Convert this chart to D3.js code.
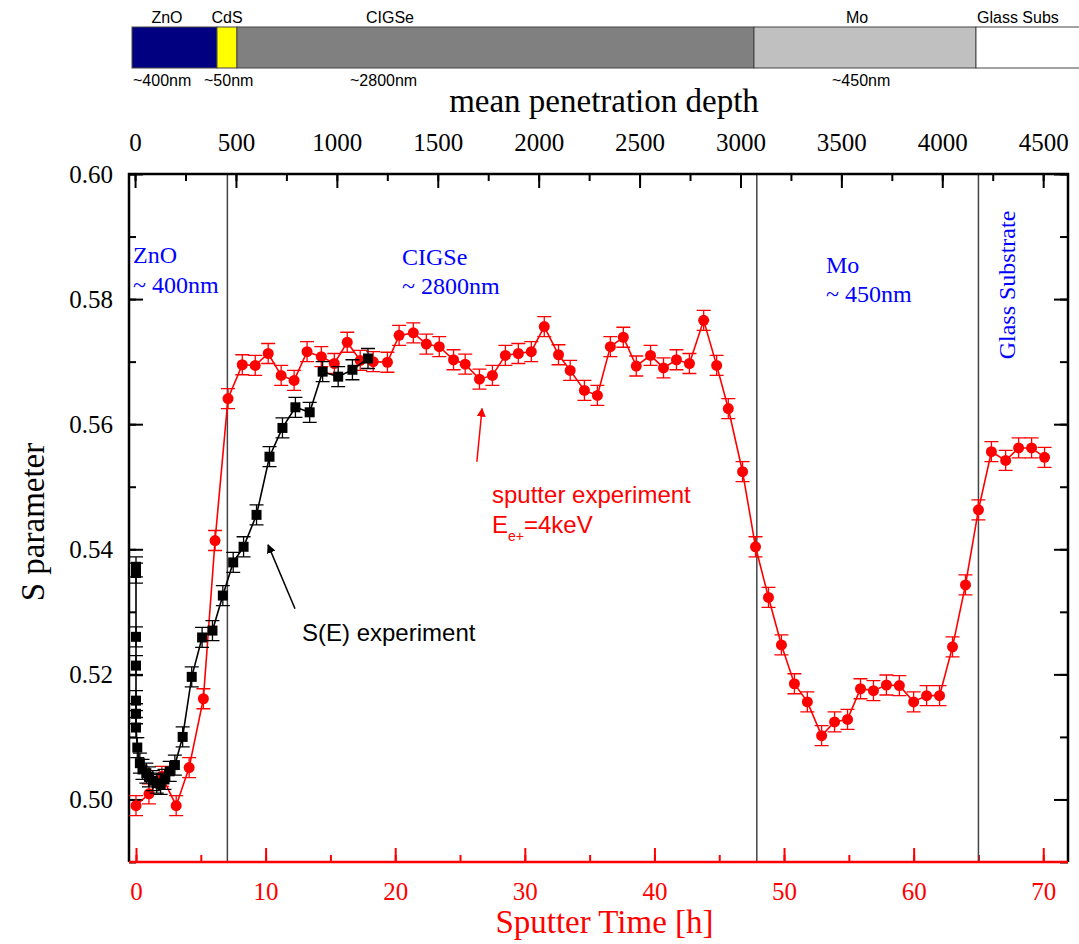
<!DOCTYPE html>
<html>
<head>
<meta charset="utf-8">
<script src="https://cdn.jsdelivr.net/npm/d3@7"></script>
<style>
  body { margin: 0; background: #fff; }
  svg { display: block; }
</style>
</head>
<body>
<svg id="chart"></svg>
<script>
const width = 1079;
const height = 944;

// sputter experiment, E = 4 keV (red)
const sputterTime = [0, 1.0, 2.0, 3.1, 4.1, 5.2, 6.1,
  7.1, 8.2, 9.2, 10.2, 11.2, 12.2, 13.2, 14.3, 15.3, 16.3, 17.3, 18.3, 19.4,
  20.3, 21.4, 22.4, 23.4, 24.5, 25.4, 26.5, 27.5,
  28.5, 29.5, 30.5, 31.5, 32.6, 33.5, 34.6, 35.6, 36.6, 37.6, 38.6, 39.7, 40.7, 41.7, 42.7, 43.8, 44.8, 45.7, 46.8, 47.8,
  48.8, 49.8, 50.8, 51.8, 52.9, 53.9, 54.9, 55.9, 56.9, 57.9, 58.9, 60.0, 61.0, 62.0, 63.0, 64.0, 65.0, 66.0, 67.1, 68.1, 69.1, 70.1];
const sputterS = [0.4990, 0.5009, 0.5037, 0.4990, 0.5051, 0.5161, 0.5414,
  0.5641, 0.5695, 0.5694, 0.5713, 0.5678, 0.5670, 0.5716, 0.5708, 0.5697, 0.5731, 0.5702, 0.5700, 0.5699,
  0.5742, 0.5746, 0.5728, 0.5724, 0.5703, 0.5696, 0.5672, 0.5678,
  0.5710, 0.5713, 0.5716, 0.5756, 0.5711, 0.5686, 0.5654, 0.5646, 0.5724, 0.5739, 0.5693, 0.5710, 0.5690, 0.5703, 0.5697, 0.5766, 0.5694, 0.5625, 0.5524, 0.5404,
  0.5323, 0.5247, 0.5185, 0.5156, 0.5102, 0.5124, 0.5128, 0.5177, 0.5174, 0.5183, 0.5182, 0.5156, 0.5166, 0.5166, 0.5244, 0.5343, 0.5463, 0.5556, 0.5542, 0.5562, 0.5562, 0.5547];
const sputterErr = 0.0016;

// S(E) experiment (black)
const seTime = [0, 0, 0, 0, 0, 0, 0, 0.1, 0.3, 0.5, 0.8, 1.0, 1.3, 1.6, 1.9, 2.2, 2.6, 3.0,
  3.6, 4.3, 5.1, 5.9, 6.7, 7.5, 8.3, 9.3, 10.3, 11.3, 12.3, 13.4, 14.4, 15.6, 16.7, 17.9];
const seS = [0.5372, 0.5362, 0.5260, 0.5214, 0.5158, 0.5137, 0.5115, 0.5083, 0.5058, 0.5048, 0.5042, 0.5036, 0.5030, 0.5026, 0.5024, 0.5032, 0.5045, 0.5055,
  0.5100, 0.5196, 0.5259, 0.5270, 0.5326, 0.5379, 0.5404, 0.5455, 0.5548, 0.5594, 0.5627, 0.5619, 0.5684, 0.5676, 0.5687, 0.5705];
const seErr = 0.0016;

// layer stack bar (depth in nm along the top axis)
const layerNames = ["ZnO", "CdS", "CIGSe", "Mo", "Glass Subs"];
const layerEdges = [-15, 406, 505, 3067, 4167, 4800];
const layerColors = ["#000080", "#ffff00", "#808080", "#c0c0c0", "#ffffff"];
const layerThick = ["~400nm", "~50nm", "~2800nm", "~450nm"];

const depthTicks = d3.range(0, 4501, 500);
const depthMinor = d3.range(0, 4501, 250);
const timeTicks = d3.range(0, 71, 10);
const timeMinor = d3.range(0, 71, 5);
const sTicks = [0.50, 0.52, 0.54, 0.56, 0.58, 0.60];
const sMinor = d3.range(0.49, 0.6001, 0.01);
const boundaryTimes = [7.05, 47.9, 65.0];

const mLeft = 129, mRight = 1068, mTop = 174, mBottom = 862;
const serif = "'Liberation Serif', 'Times New Roman', serif";
const sans = "'Liberation Sans', Arial, sans-serif";
const red = "#ff0000";

const x = d3.scaleLinear([-0.54, 71.91], [mLeft, mRight]);
const xTop = d3.scaleLinear([-30, 4623], [mLeft, mRight]);
const y = d3.scaleLinear([0.49, 0.60], [mBottom, mTop]);

const svg = d3.select("#chart")
  .attr("width", width)
  .attr("height", height)
  .attr("viewBox", [0, 0, width, height]);

// ---------- layer bar ----------
const bar = svg.append("g");
bar.selectAll("rect")
  .data(layerNames)
  .join("rect")
  .attr("x", (d, i) => xTop(layerEdges[i]))
  .attr("y", 27)
  .attr("width", (d, i) => xTop(layerEdges[i + 1]) - xTop(layerEdges[i]))
  .attr("height", 41)
  .attr("fill", (d, i) => layerColors[i])
  .attr("stroke", "#444")
  .attr("stroke-width", 1);

const barText = svg.append("g")
  .attr("font-family", sans)
  .attr("font-size", 16)
  .attr("fill", "#000");
const nameX = [167, 227, 390, 857, 977];
barText.selectAll("text.name")
  .data(layerNames)
  .join("text")
  .attr("class", "name")
  .attr("x", (d, i) => nameX[i])
  .attr("y", 23)
  .attr("text-anchor", (d, i) => i === 4 ? "start" : "middle")
  .text(d => d);
const thickX = [133, 204, 350, 832];
barText.selectAll("text.thick")
  .data(layerThick)
  .join("text")
  .attr("class", "thick")
  .attr("x", (d, i) => thickX[i])
  .attr("y", 86)
  .text(d => d);

// ---------- axes ----------
function styleAxis(g, color) {
  g.attr("font-family", serif).attr("font-size", 25);
  g.select(".domain").remove();
  g.selectAll(".tick line").attr("stroke", color).attr("stroke-width", 2);
  g.selectAll(".tick text")
    .attr("fill", color)
    .attr("font-family", serif)
    .attr("font-size", 25);
}

// bottom (red)
svg.append("g")
  .attr("transform", `translate(0,${mBottom})`)
  .call(d3.axisBottom(x).tickValues(timeMinor).tickSize(-7).tickFormat(""))
  .call(g => styleAxis(g, red));
svg.append("g")
  .attr("transform", `translate(0,${mBottom})`)
  .call(d3.axisBottom(x).tickValues(timeTicks).tickSize(-14).tickPadding(20).tickFormat(d3.format("d")))
  .call(g => styleAxis(g, red));

// top (depth)
svg.append("g")
  .attr("transform", `translate(0,${mTop})`)
  .call(d3.axisTop(xTop).tickValues(depthMinor).tickSize(-7).tickFormat(""))
  .call(g => styleAxis(g, "#000"));
svg.append("g")
  .attr("transform", `translate(0,${mTop})`)
  .call(d3.axisTop(xTop).tickValues(depthTicks).tickSize(-14).tickPadding(23).tickFormat(d3.format("d")))
  .call(g => styleAxis(g, "#000"));

// left
svg.append("g")
  .attr("transform", `translate(${mLeft},0)`)
  .call(d3.axisLeft(y).tickValues(sMinor).tickSize(-7).tickFormat(""))
  .call(g => styleAxis(g, "#000"));
svg.append("g")
  .attr("transform", `translate(${mLeft},0)`)
  .call(d3.axisLeft(y).tickValues(sTicks).tickSize(-14).tickPadding(16).tickFormat(d3.format(".2f")))
  .call(g => styleAxis(g, "#000"));

// right (ticks only)
svg.append("g")
  .attr("transform", `translate(${mRight},0)`)
  .call(d3.axisRight(y).tickValues(sMinor).tickSize(-8).tickFormat(""))
  .call(g => styleAxis(g, "#000"));
svg.append("g")
  .attr("transform", `translate(${mRight},0)`)
  .call(d3.axisRight(y).tickValues(sTicks).tickSize(-14).tickFormat(""))
  .call(g => styleAxis(g, "#000"));

// layer boundary lines
svg.append("g")
  .selectAll("line")
  .data(boundaryTimes)
  .join("line")
  .attr("x1", d => x(d)).attr("x2", d => x(d))
  .attr("y1", mTop).attr("y2", mBottom)
  .attr("stroke", "#444")
  .attr("stroke-width", 1.5);

// spines
svg.append("path")
  .attr("d", `M${mLeft},${mBottom}V${mTop}H${mRight}V${mBottom}`)
  .attr("fill", "none").attr("stroke", "#000").attr("stroke-width", 2.5);
svg.append("line")
  .attr("x1", mLeft).attr("x2", mRight).attr("y1", mBottom).attr("y2", mBottom)
  .attr("stroke", red).attr("stroke-width", 2.5);

// ---------- data ----------
function drawSeries(times, values, err, color, shape) {
  const data = times.map((t, i) => ({t, s: values[i]}));
  const g = svg.append("g");
  g.append("path")
    .datum(data)
    .attr("fill", "none")
    .attr("stroke", color)
    .attr("stroke-width", 1.6)
    .attr("d", d3.line().x(d => x(d.t)).y(d => y(d.s)));
  const eb = g.append("g").attr("stroke", color).attr("stroke-width", 1.3).attr("fill", "none");
  eb.selectAll("path")
    .data(data)
    .join("path")
    .attr("d", d => {
      const cx = x(d.t), y0 = y(d.s - err), y1 = y(d.s + err);
      return `M${cx},${y0}V${y1}M${cx - 7},${y0}H${cx + 7}M${cx - 7},${y1}H${cx + 7}`;
    });
  if (shape === "circle") {
    g.append("g").attr("fill", color)
      .selectAll("circle")
      .data(data)
      .join("circle")
      .attr("cx", d => x(d.t))
      .attr("cy", d => y(d.s))
      .attr("r", 5.5);
  } else {
    g.append("g").attr("fill", color)
      .selectAll("rect")
      .data(data)
      .join("rect")
      .attr("x", d => x(d.t) - 5)
      .attr("y", d => y(d.s) - 5)
      .attr("width", 10)
      .attr("height", 10);
  }
}

drawSeries(sputterTime, sputterS, sputterErr, red, "circle");
drawSeries(seTime, seS, seErr, "#000", "square");

// ---------- annotations ----------
const defs = svg.append("defs");
[["arrowRed", red], ["arrowBlack", "#000"]].forEach(([id, c]) => {
  defs.append("marker")
    .attr("id", id)
    .attr("viewBox", "0 0 10 10")
    .attr("refX", 9).attr("refY", 5)
    .attr("markerWidth", 9).attr("markerHeight", 9)
    .attr("markerUnits", "userSpaceOnUse")
    .attr("orient", "auto")
    .append("path")
    .attr("d", "M0,0L10,5L0,10Z")
    .attr("fill", c);
});

svg.append("line")
  .attr("x1", x(26.3)).attr("y1", y(0.5540))
  .attr("x2", x(26.7)).attr("y2", y(0.5625))
  .attr("stroke", red).attr("stroke-width", 1.5)
  .attr("marker-end", "url(#arrowRed)");
svg.append("line")
  .attr("x1", x(12.27)).attr("y1", y(0.5305))
  .attr("x2", x(10.19)).attr("y2", y(0.5407))
  .attr("stroke", "#000").attr("stroke-width", 1.5)
  .attr("marker-end", "url(#arrowBlack)");

const blue = svg.append("g")
  .attr("fill", "#0000ff")
  .attr("font-family", serif)
  .attr("font-size", 24);
blue.append("text").attr("x", 133).attr("y", 263).text("ZnO");
blue.append("text").attr("x", 133).attr("y", 293).text("~ 400nm");
blue.append("text").attr("x", 402).attr("y", 265).text("CIGSe");
blue.append("text").attr("x", 402).attr("y", 294).text("~ 2800nm");
blue.append("text").attr("x", 826).attr("y", 273).text("Mo");
blue.append("text").attr("x", 826).attr("y", 302).text("~ 450nm");
blue.append("text")
  .attr("transform", "translate(1015,285) rotate(-90)")
  .attr("text-anchor", "middle")
  .text("Glass Substrate");

const redText = svg.append("g")
  .attr("fill", red)
  .attr("font-family", sans)
  .attr("font-size", 24);
redText.append("text").attr("x", 492).attr("y", 503).text("sputter experiment");
const eText = redText.append("text").attr("x", 492).attr("y", 533);
eText.append("tspan").text("E");
eText.append("tspan").attr("dy", 8).attr("font-size", 14).text("e+");
eText.append("tspan").attr("dy", -8).text("=4keV");

svg.append("text")
  .attr("x", 302).attr("y", 641)
  .attr("font-family", sans)
  .attr("font-size", 24)
  .text("S(E) experiment");

// axis titles
const titles = svg.append("g").attr("font-family", serif).attr("font-size", 33);
titles.append("text")
  .attr("x", (mLeft + mRight) / 2 + 6).attr("y", 933)
  .attr("text-anchor", "middle")
  .attr("fill", red)
  .text("Sputter Time [h]");
titles.append("text")
  .attr("x", 604).attr("y", 112)
  .attr("text-anchor", "middle")
  .text("mean penetration depth");
titles.append("text")
  .attr("transform", "translate(44,522) rotate(-90)")
  .attr("text-anchor", "middle")
  .text("S parameter");
</script>
</body>
</html>
